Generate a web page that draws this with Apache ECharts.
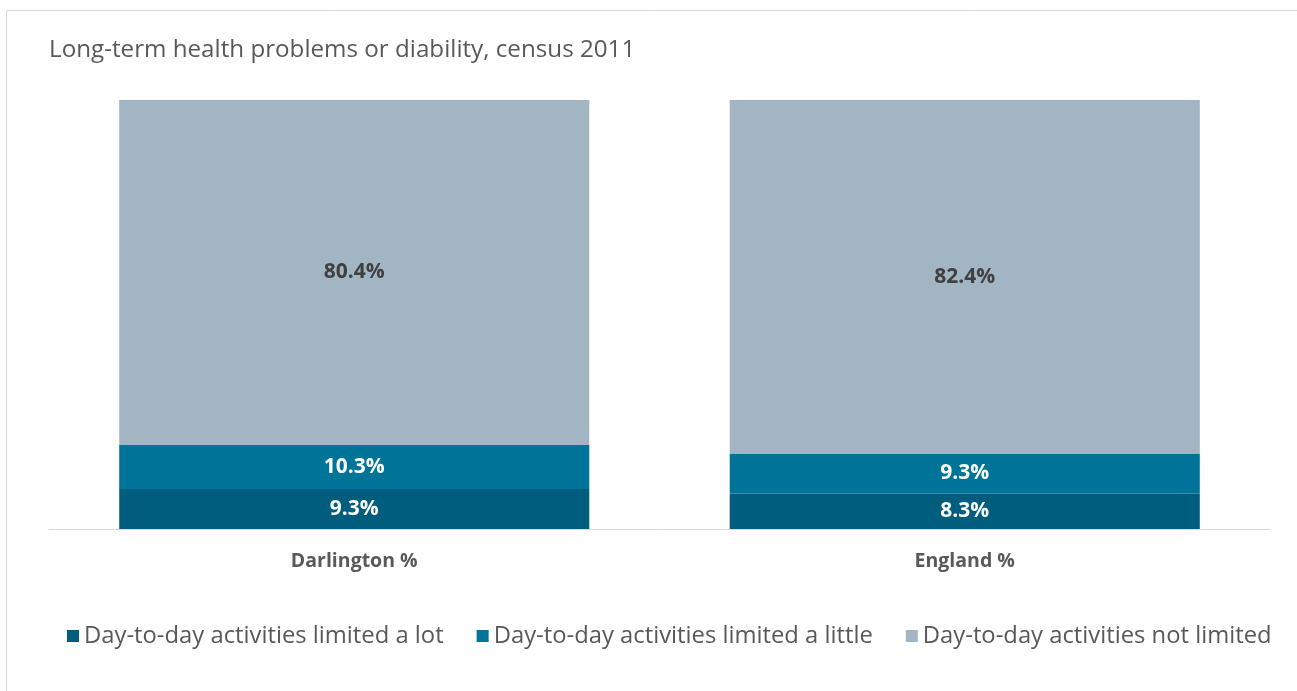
<!DOCTYPE html>
<html><head><meta charset="utf-8">
<script src="https://cdn.jsdelivr.net/npm/echarts@6/dist/echarts.min.js"></script>
<style>html,body{margin:0;padding:0;background:#fff}#c{width:1297px;height:691px}</style>
</head><body><div id="c"></div>
<script>
const categories = ['Darlington %', 'England %'];
const seriesNames = ['Day-to-day activities limited a lot', 'Day-to-day activities limited a little', 'Day-to-day activities not limited'];
const limitedLot = [9.3, 8.3];
const limitedLittle = [10.3, 9.3];
const notLimited = [80.4, 82.4];
const colors = ['#005d7e', '#007398', '#a2b5c3'];
const labelColors = ['#ffffff', '#ffffff', '#404040'];
const FONT = '"Open Sans", "Noto Sans", sans-serif';
const values = [limitedLot, limitedLittle, notLimited];

const chart = echarts.init(document.getElementById('c'), null, {renderer: 'canvas'});
chart.setOption({
  animation: false,
  graphic: [{type: 'rect', shape: {x: 6.5, y: 10.5, width: 1400, height: 800}, style: {fill: 'none', stroke: '#d9d9d9', lineWidth: 1}}],
  title: {text: 'Long-term health problems or diability, census 2011', left: 44, top: 33,
    textStyle: {fontFamily: FONT, fontSize: 24.2, fontWeight: 'normal', color: '#595959'}},
  legend: {top: 619, left: 62, itemWidth: 12, itemHeight: 12, itemGap: 33, icon: 'rect',
    textStyle: {fontFamily: FONT, fontSize: 23.8, color: '#595959'}, data: seriesNames},
  grid: {left: 49, right: 27, top: 100, bottom: 162},
  xAxis: {type: 'category', data: categories,
    axisLine: {lineStyle: {color: '#d9d9d9'}}, axisTick: {show: false},
    axisLabel: {fontFamily: FONT, fontSize: 19.5, fontWeight: 'bold', color: '#595959', margin: 22}},
  yAxis: {type: 'value', min: 0, max: 100, show: false, splitLine: {show: false}},
  series: values.map((v, i) => ({
    name: seriesNames[i], type: 'bar', stack: 'total', data: v, barWidth: '77%',
    itemStyle: {color: colors[i]},
    label: {show: true, position: 'inside', formatter: p => p.value.toFixed(1) + '%',
      fontFamily: FONT, fontSize: 21, fontWeight: 'bold', color: labelColors[i]}
  }))
});
</script></body></html>
